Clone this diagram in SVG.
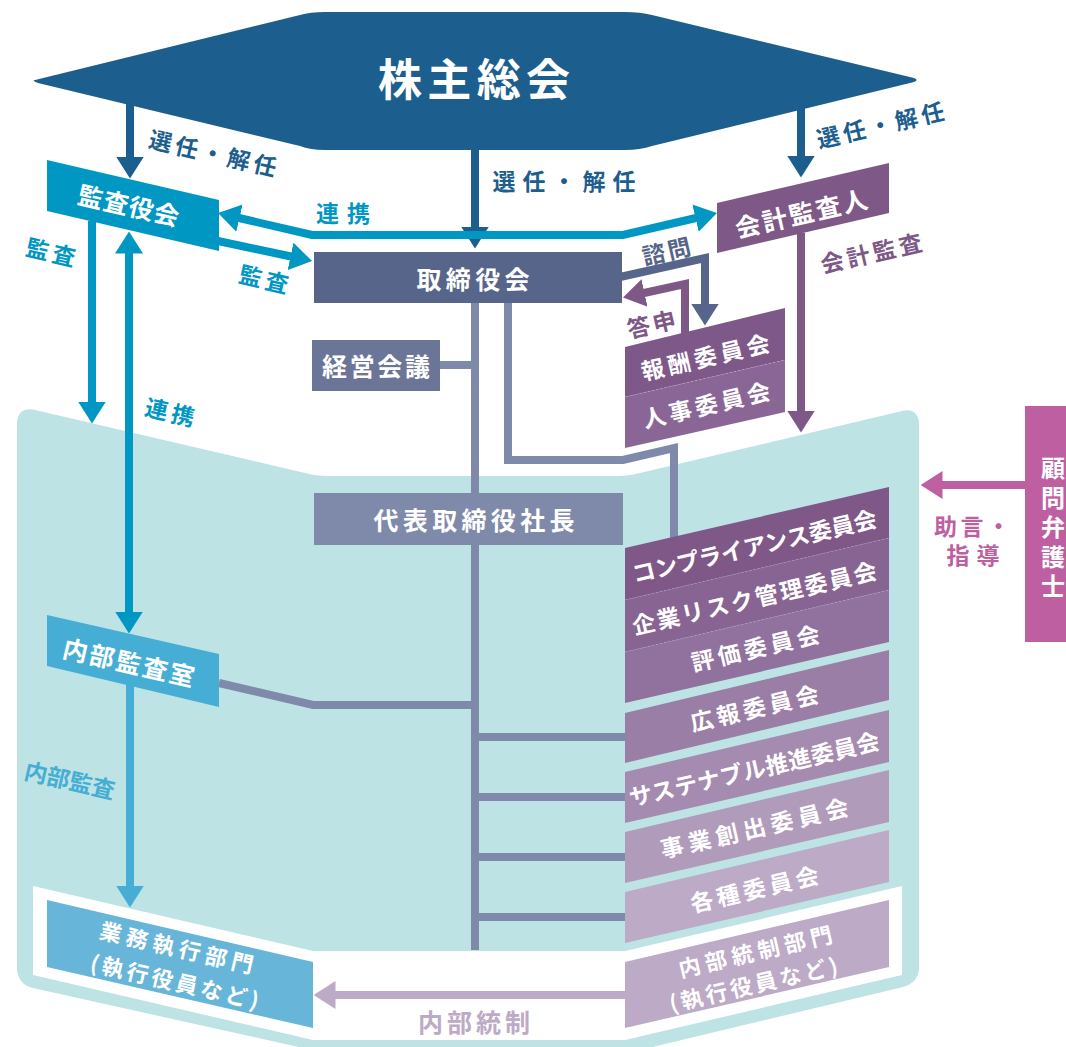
<svg xmlns="http://www.w3.org/2000/svg" width="1066" height="1047" viewBox="0 0 1066 1047">
<style>
text{font-family:"Noto Sans CJK JP","Noto Sans",sans-serif;font-weight:700;text-anchor:middle;dominant-baseline:central}
.w{fill:#ffffff}
.ln{fill:none;stroke-width:8;stroke-linejoin:miter}
.f25{font-size:25px}
.f23{font-size:23px}
.f22{font-size:22px}
.div{stroke:#ffffff;stroke-opacity:0.18;stroke-width:1;stroke-dasharray:2 2;fill:none}
</style>
<defs>
<marker id="mNavy" viewBox="0 0 22 28" refX="0.5" refY="14" markerWidth="22" markerHeight="28" markerUnits="userSpaceOnUse" orient="auto-start-reverse"><path d="M0,0 L22,14 L0,28 Z" fill="#1c5e8d"/></marker>
<marker id="mCyan" viewBox="0 0 22 28" refX="0.5" refY="14" markerWidth="22" markerHeight="28" markerUnits="userSpaceOnUse" orient="auto-start-reverse"><path d="M0,0 L22,14 L0,28 Z" fill="#0097c3"/></marker>
<marker id="mSlate" viewBox="0 0 22 28" refX="0.5" refY="14" markerWidth="22" markerHeight="28" markerUnits="userSpaceOnUse" orient="auto-start-reverse"><path d="M0,0 L22,14 L0,28 Z" fill="#566589"/></marker>
<marker id="mPurple" viewBox="0 0 22 28" refX="0.5" refY="14" markerWidth="22" markerHeight="28" markerUnits="userSpaceOnUse" orient="auto-start-reverse"><path d="M0,0 L22,14 L0,28 Z" fill="#7e5887"/></marker>
<marker id="mLblue" viewBox="0 0 22 28" refX="0.5" refY="14" markerWidth="22" markerHeight="28" markerUnits="userSpaceOnUse" orient="auto-start-reverse"><path d="M0,0 L22,14 L0,28 Z" fill="#46aed4"/></marker>
<marker id="mLpurple" viewBox="0 0 22 28" refX="0.5" refY="14" markerWidth="22" markerHeight="28" markerUnits="userSpaceOnUse" orient="auto-start-reverse"><path d="M0,0 L22,14 L0,28 Z" fill="#bcaac6"/></marker>
<marker id="mMag" viewBox="0 0 22 28" refX="0.5" refY="14" markerWidth="22" markerHeight="28" markerUnits="userSpaceOnUse" orient="auto-start-reverse"><path d="M0,0 L22,14 L0,28 Z" fill="#be5fa1"/></marker>
</defs>

<g id="background">
<path d="M17,424 C17,412 24,407 35,410 L305,473 Q315,476 328,476 L620,476 Q630,476 640,473 L902,411 C913,408 919,414 919,424 L919,968 C919,978 913,984 903,987 L640,1050 L312,1050 L33,988 C23,986 17,978 17,968 Z" fill="#bde3e5"/>
<path d="M33,886 L313,951 L625,951 L902,886 L902,975 L625,1040 L313,1040 L33,975 Z" fill="#ffffff"/>
</g>

<g id="connectors">
<path class="ln" stroke="#1c5e8d" d="M130,100 L130,157" marker-end="url(#mNavy)"/>
<path class="ln" stroke="#1c5e8d" d="M475,148 L475,227" marker-end="url(#mNavy)"/>
<path class="ln" stroke="#1c5e8d" d="M801,105 L801,156" marker-end="url(#mNavy)"/>
<path class="ln" stroke="#0097c3" d="M239,218 L312,235 L623,235 L696,218" marker-start="url(#mCyan)" marker-end="url(#mCyan)"/>
<path class="ln" stroke="#0097c3" d="M218,241 L291,256.5" marker-end="url(#mCyan)"/>
<path class="ln" stroke="#0097c3" d="M92,221 L92,402" marker-end="url(#mCyan)"/>
<path class="ln" stroke="#0097c3" d="M129,253 L129,612" marker-start="url(#mCyan)" marker-end="url(#mCyan)"/>
<path class="ln" stroke="#7e5887" d="M801,233 L801,411" marker-end="url(#mPurple)"/>
<path class="ln" stroke="#566589" d="M620,277 L705,258 L705,304" marker-end="url(#mSlate)"/>
<path class="ln" stroke="#7e5887" d="M685,340 L685,284 L644,293" marker-end="url(#mPurple)"/>
<path class="ln" stroke="#7f8aab" d="M475,303 L475,950"/>
<path class="ln" stroke="#7f8aab" d="M508,303 L508,460 L623,460 L674,448 L674,545"/>
<path class="ln" stroke="#7f8aab" d="M440,365 L475,365"/>
<path class="ln" stroke="#7f8aab" d="M219,683 L313,705 L475,705"/>
<path class="ln" stroke="#7f8aab" d="M475,737 H626 M475,797 H626 M475,857 H626 M475,917 H626"/>
<path class="ln" stroke="#46aed4" d="M130,684 L130,886" marker-end="url(#mLblue)"/>
<path class="ln" stroke="#bcaac6" d="M626,995 L335,995" marker-end="url(#mLpurple)"/>
<path class="ln" stroke="#be5fa1" d="M1026,485 L942,485" marker-end="url(#mMag)"/>

<text class="f23" fill="#1c5e8d" transform="translate(213,152) rotate(13)" textLength="130" lengthAdjust="spacing">選任・解任</text>
<text class="f23" fill="#1c5e8d" x="564" y="180" textLength="143" lengthAdjust="spacing">選任・解任</text>
<text class="f23" fill="#1c5e8d" transform="translate(880,124) rotate(-13)" textLength="130" lengthAdjust="spacing">選任・解任</text>
<text class="f23" fill="#0097c3" x="343" y="212" textLength="54" lengthAdjust="spacing">連携</text>
<text class="f23" fill="#0097c3" transform="translate(51,251) rotate(13)" textLength="50" lengthAdjust="spacing">監査</text>
<text class="f23" fill="#0097c3" transform="translate(264,278) rotate(13)" textLength="50" lengthAdjust="spacing">監査</text>
<text class="f23" fill="#0097c3" transform="translate(170,411) rotate(13)" textLength="50" lengthAdjust="spacing">連携</text>
<text class="f23" fill="#46aed4" transform="translate(70,779) rotate(13)" textLength="92" lengthAdjust="spacing">内部監査</text>
<text class="f23" fill="#7e5887" transform="translate(871,252) rotate(-13)" textLength="103" lengthAdjust="spacing">会計監査</text>
<text class="f23" fill="#566589" transform="translate(666,250) rotate(-13)" textLength="49" lengthAdjust="spacing">諮問</text>
<text class="f23" fill="#7e5887" transform="translate(651,323) rotate(-13)" textLength="49" lengthAdjust="spacing">答申</text>
<text fill="#bcaac6" x="474" y="1021" font-size="25" textLength="112" lengthAdjust="spacing">内部統制</text>
<text fill="#be5fa1" x="972" y="525" font-size="23" textLength="76" lengthAdjust="spacing">助言・</text>
<text fill="#be5fa1" x="973" y="554" font-size="23" textLength="53" lengthAdjust="spacing">指導</text>
</g>

<g id="node-shareholders">
<path d="M35,80 L300,15 Q310,12 325,12 L625,12 Q640,12 652,15 L914,78 Q919,80 914,82 L652,146 Q640,150 625,150 L325,150 Q310,150 300,146 L38,83 Q31,80 35,80 Z" fill="#1c5e8d"/>
<text class="w" x="474" y="77" font-size="44" textLength="192" lengthAdjust="spacing">株主総会</text>
</g>

<g id="node-auditors">
<polygon points="47,160 219,200 219,251 47,211" fill="#0097c3"/>
<text class="w f25" transform="translate(129,204) rotate(13)" textLength="103" lengthAdjust="spacing">監査役会</text>
</g>

<g id="node-board">
<rect x="314" y="252" width="308" height="51" fill="#566589"/>
<text class="w f25" x="473" y="278" textLength="113" lengthAdjust="spacing">取締役会</text>
</g>

<g id="node-accounting-auditor">
<polygon points="717,203 889,163 889,213 717,253" fill="#7e5887"/>
<text class="w f25" transform="translate(801,212) rotate(-13)" textLength="135" lengthAdjust="spacing">会計監査人</text>
</g>

<g id="node-management-meeting">
<rect x="312" y="340" width="128" height="51" fill="#6b7598"/>
<text class="w f25" x="376" y="365" textLength="108" lengthAdjust="spacing">経営会議</text>
</g>

<g id="node-remuneration">
<polygon points="625,347 785,308 785,360 625,397" fill="#7e5888"/>
<text class="w f23" transform="translate(705,356) rotate(-13)" textLength="131" lengthAdjust="spacing">報酬委員会</text>
</g>
<g id="node-personnel">
<polygon points="625,397 785,360 785,412 625,448" fill="#8a6696"/>
<line class="div" x1="625" y1="397" x2="785" y2="360"/>
<text class="w f23" transform="translate(706,404) rotate(-13)" textLength="130" lengthAdjust="spacing">人事委員会</text>
</g>

<g id="node-president">
<rect x="314" y="493" width="309" height="52" fill="#7f8aab"/>
<text class="w f25" x="474" y="519" textLength="201" lengthAdjust="spacing">代表取締役社長</text>
</g>

<g id="node-compliance">
<polygon points="625,548 889,487 889,538 625,600" fill="#7f5888"/>
<text class="w f23" transform="translate(754,545) rotate(-13)" textLength="250" lengthAdjust="spacing">コンプライアンス委員会</text>
</g>
<g id="node-risk">
<polygon points="625,600 889,538 889,590 625,652" fill="#886493"/>
<line class="div" x1="625" y1="600" x2="889" y2="538"/>
<text class="w f23" transform="translate(754,597) rotate(-13)" textLength="250" lengthAdjust="spacing">企業リスク管理委員会</text>
</g>
<g id="node-evaluation">
<polygon points="625,652 889,590 889,642 625,703" fill="#91719d"/>
<line class="div" x1="625" y1="652" x2="889" y2="590"/>
<text class="w f23" transform="translate(755,647) rotate(-13)" textLength="131" lengthAdjust="spacing">評価委員会</text>
</g>
<g id="node-pr">
<polygon points="625,713 889,650 889,700 625,763" fill="#9b7ea6"/>
<text class="w f23" transform="translate(754,707) rotate(-13)" textLength="131" lengthAdjust="spacing">広報委員会</text>
</g>
<g id="node-sustainable">
<polygon points="625,772 889,710 889,762 625,823" fill="#a58bb0"/>
<text class="w f23" transform="translate(754,768) rotate(-13)" textLength="256" lengthAdjust="spacing">サステナブル推進委員会</text>
</g>
<g id="node-business-creation">
<polygon points="625,832 889,770 889,822 625,883" fill="#b09bbb"/>
<text class="w f23" transform="translate(754,827) rotate(-13)" textLength="192" lengthAdjust="spacing">事業創出委員会</text>
</g>
<g id="node-various">
<polygon points="625,892 889,830 889,882 625,943" fill="#bcaac6"/>
<text class="w f23" transform="translate(754,888) rotate(-13)" textLength="131" lengthAdjust="spacing">各種委員会</text>
</g>

<g id="node-internal-audit">
<polygon points="47,615 219,654 219,707 47,666" fill="#46aed4"/>
<text class="w f25" transform="translate(129,661) rotate(13)" textLength="134" lengthAdjust="spacing">内部監査室</text>
</g>

<g id="node-operations">
<polygon points="47,900 313,962 313,1028 47,967" fill="#67b5d9"/>
<text class="w f22" transform="translate(177,946) rotate(13)" textLength="157" lengthAdjust="spacing">業務執行部門</text>
<text class="w f22" transform="translate(175,980) rotate(13)" textLength="172" lengthAdjust="spacing">(執行役員など)</text>
</g>

<g id="node-internal-control">
<polygon points="625,962 889,900 889,967 625,1028" fill="#bcaac6"/>
<text class="w f22" transform="translate(755,950) rotate(-13)" textLength="157" lengthAdjust="spacing">内部統制部門</text>
<text class="w f22" transform="translate(753,983) rotate(-13)" textLength="172" lengthAdjust="spacing">(執行役員など)</text>
</g>

<g id="node-lawyer">
<rect x="1025" y="406" width="50" height="236" fill="#be5fa1"/>
<text class="w" font-size="24" style="text-anchor:start"><tspan x="1041" y="466">顧</tspan><tspan x="1041" y="495.5">問</tspan><tspan x="1041" y="525">弁</tspan><tspan x="1041" y="554.5">護</tspan><tspan x="1041" y="584">士</tspan></text>
</g>
</svg>
